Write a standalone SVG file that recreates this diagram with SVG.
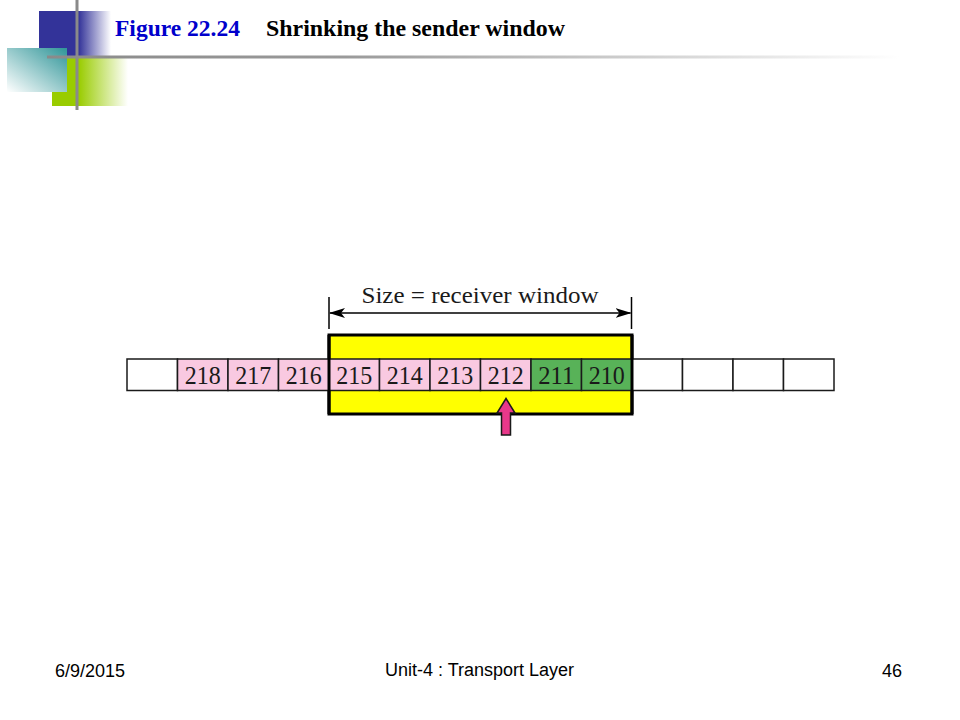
<svg xmlns="http://www.w3.org/2000/svg" width="960" height="720" viewBox="0 0 960 720">
<defs>
<linearGradient id="gBlue" x1="0" y1="0" x2="1" y2="0">
<stop offset="0" stop-color="#333399"/><stop offset="0.55" stop-color="#333399"/><stop offset="1" stop-color="#333399" stop-opacity="0"/>
</linearGradient>
<linearGradient id="gGreen" x1="0" y1="0" x2="1" y2="0">
<stop offset="0" stop-color="#99cc00"/><stop offset="0.35" stop-color="#99cc00"/><stop offset="1" stop-color="#99cc00" stop-opacity="0"/>
</linearGradient>
<linearGradient id="gTeal" x1="1" y1="0" x2="0" y2="1">
<stop offset="0" stop-color="#2f9598"/><stop offset="1" stop-color="#ffffff"/>
</linearGradient>
<linearGradient id="gLine" gradientUnits="userSpaceOnUse" x1="47" y1="0" x2="900" y2="0">
<stop offset="0" stop-color="#8a8a8a"/><stop offset="0.35" stop-color="#9a9a9a"/><stop offset="1" stop-color="#ffffff"/>
</linearGradient>
<marker id="ah" viewBox="0 0 16 10" refX="15" refY="5" markerWidth="16" markerHeight="10" markerUnits="userSpaceOnUse" orient="auto-start-reverse">
<path d="M0,0 L16,5 L0,10 L4,5 Z" fill="#000"/>
</marker>
<style>
.cell{stroke:#1a1a1a;stroke-width:1.5}
.empty{fill:#ffffff}
.pink{fill:#f9c9e1}
.green{fill:#58b258}
.num{font-family:"Liberation Serif","DejaVu Serif",serif;font-size:25px;fill:#1a1a1a;text-anchor:middle}
.foot{font-family:"Liberation Sans",Arial,sans-serif;font-size:18px;fill:#000}
.title{font-family:"Liberation Serif","Times New Roman",serif;font-weight:bold;font-size:22.5px}
</style>
</defs>
<rect width="960" height="720" fill="#ffffff"/>

<g id="header">
<rect x="39" y="11" width="72" height="45" fill="url(#gBlue)"/>
<rect x="52" y="57" width="76" height="49" fill="url(#gGreen)"/>
<rect x="7" y="48" width="60" height="44" fill="url(#gTeal)"/>
<rect x="75.5" y="0" width="3" height="110" fill="#8a8a8a"/>
<rect x="47" y="55.5" width="853" height="3" fill="url(#gLine)"/>
<text class="title" x="115" y="36" fill="#0000cc" textLength="125" lengthAdjust="spacingAndGlyphs">Figure 22.24</text>
<text class="title" x="266" y="36" fill="#000000" textLength="299" lengthAdjust="spacingAndGlyphs">Shrinking the sender window</text>
</g>

<g id="window">
<rect x="329" y="335" width="303" height="79" fill="#ffff00" stroke="#000" stroke-width="3"/>
</g>

<g id="cells">
<g id="c0"><rect class="cell empty" x="127" y="359" width="50.5" height="31.5"/></g>
<g id="c218"><rect class="cell pink" x="177.5" y="359" width="50.5" height="31.5"/><text class="num" x="202.75" y="383.5" textLength="36" lengthAdjust="spacingAndGlyphs">218</text></g>
<g id="c217"><rect class="cell pink" x="228" y="359" width="50.5" height="31.5"/><text class="num" x="253.25" y="383.5" textLength="36" lengthAdjust="spacingAndGlyphs">217</text></g>
<g id="c216"><rect class="cell pink" x="278.5" y="359" width="50.5" height="31.5"/><text class="num" x="303.75" y="383.5" textLength="36" lengthAdjust="spacingAndGlyphs">216</text></g>
<g id="c215"><rect class="cell pink" x="329" y="359" width="50.5" height="31.5"/><text class="num" x="354.25" y="383.5" textLength="36" lengthAdjust="spacingAndGlyphs">215</text></g>
<g id="c214"><rect class="cell pink" x="379.5" y="359" width="50.5" height="31.5"/><text class="num" x="404.75" y="383.5" textLength="36" lengthAdjust="spacingAndGlyphs">214</text></g>
<g id="c213"><rect class="cell pink" x="430" y="359" width="50.5" height="31.5"/><text class="num" x="455.25" y="383.5" textLength="36" lengthAdjust="spacingAndGlyphs">213</text></g>
<g id="c212"><rect class="cell pink" x="480.5" y="359" width="50.5" height="31.5"/><text class="num" x="505.75" y="383.5" textLength="36" lengthAdjust="spacingAndGlyphs">212</text></g>
<g id="c211"><rect class="cell green" x="531" y="359" width="50.5" height="31.5"/><text class="num" x="556.25" y="383.5" textLength="36" lengthAdjust="spacingAndGlyphs">211</text></g>
<g id="c210"><rect class="cell green" x="581.5" y="359" width="50.5" height="31.5"/><text class="num" x="606.75" y="383.5" textLength="36" lengthAdjust="spacingAndGlyphs">210</text></g>
<g id="c10"><rect class="cell empty" x="632" y="359" width="50.5" height="31.5"/></g>
<g id="c11"><rect class="cell empty" x="682.5" y="359" width="50.5" height="31.5"/></g>
<g id="c12"><rect class="cell empty" x="733" y="359" width="50.5" height="31.5"/></g>
<g id="c13"><rect class="cell empty" x="783.5" y="359" width="50.5" height="31.5"/></g>
</g>
<path d="M329,335 V414" stroke="#000" stroke-width="3"/>
<path d="M632,335 V414" stroke="#000" stroke-width="3"/>

<g id="connectors">
<line x1="329" y1="297" x2="329" y2="329" stroke="#000" stroke-width="1.5"/>
<line x1="631.5" y1="297" x2="631.5" y2="329" stroke="#000" stroke-width="1.5"/>
<line x1="330" y1="313" x2="630.5" y2="313" stroke="#000" stroke-width="1.5" marker-start="url(#ah)" marker-end="url(#ah)"/>
<text x="480" y="303" text-anchor="middle" font-family="'Liberation Serif','DejaVu Serif',serif" font-size="24" fill="#1a1a1a" textLength="237" lengthAdjust="spacingAndGlyphs">Size = receiver window</text>
<path id="pointer" d="M506,398.5 L515,413 L510.5,413 L510.5,435 L501.5,435 L501.5,413 L497,413 Z" fill="#e8388a" stroke="#1a1a1a" stroke-width="1.5" stroke-linejoin="miter"/>
</g>

<g id="footer">
<text class="foot" x="55" y="677" font-size="19.5">6/9/2015</text>
<text class="foot" x="479.5" y="676" text-anchor="middle">Unit-4 : Transport Layer</text>
<text class="foot" x="902" y="677" text-anchor="end">46</text>
</g>
</svg>
